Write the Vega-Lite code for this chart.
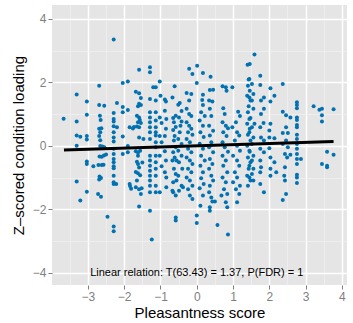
{
  "$schema": "https://vega.github.io/schema/vega-lite/v6.json",
  "autosize": "none",
  "width": 295,
  "height": 280,
  "padding": {"left": 52, "top": 5, "right": 6, "bottom": 38},
  "background": "white",
  "title": {"text": "CRS432", "fontSize": 16, "font": "Liberation Sans", "fontWeight": "normal", "color": "black", "offset": 2, "anchor": "middle"},
  "config": {
    "view": {"fill": "#E5E5E5", "stroke": null},
    "font": "Liberation Sans"
  },
  "resolve": {"axis": {"x": "independent", "y": "independent"}},
  "datasets": {
    "pts": [
      {"x":-2.29,"y":3.35},{"x":-3.31,"y":1.62},{"x":-3.67,"y":0.86},{"x":-3.31,"y":0.77},{"x":-3.31,"y":0.33},{"x":-3.21,"y":0.29},{"x":-3.31,"y":0.01},{"x":-3.03,"y":1.40},{"x":-3.03,"y":0.98},{"x":-3.03,"y":0.31},{"x":-3.03,"y":0.20},{"x":-3.03,"y":-0.49},{"x":-3.03,"y":-0.57},{"x":-2.85,"y":-0.64},{"x":-3.31,"y":-1.12},{"x":-3.03,"y":-1.44},{"x":-3.21,"y":-1.72},
      {"x":-2.69,"y":1.90},{"x":-2.69,"y":1.29},{"x":-2.55,"y":1.27},{"x":-2.67,"y":0.95},{"x":-2.65,"y":0.82},{"x":-2.69,"y":0.54},{"x":-2.63,"y":0.56},{"x":-2.66,"y":0.43},{"x":-2.69,"y":0.31},{"x":-2.66,"y":0.18},{"x":-2.66,"y":0.0},{"x":-2.6,"y":-0.02},{"x":-2.55,"y":-0.04},{"x":-2.68,"y":-0.33},{"x":-2.62,"y":-0.34},{"x":-2.56,"y":-0.3},{"x":-2.5,"y":-0.27},{"x":-2.71,"y":-0.6},{"x":-2.62,"y":-0.6},{"x":-2.57,"y":-0.59},{"x":-2.68,"y":-0.96},{"x":-2.64,"y":-1.01},{"x":-2.69,"y":-1.06},{"x":-2.72,"y":-1.51},{"x":-2.64,"y":-1.6},{"x":-2.46,"y":-2.23},{"x":-2.29,"y":-2.54},{"x":-2.29,"y":-2.69},
      {"x":-2.29,"y":1.04},{"x":-2.29,"y":0.85},{"x":-2.29,"y":0.77},{"x":-2.29,"y":0.62},{"x":-2.29,"y":0.43},{"x":-2.29,"y":0.27},{"x":-2.29,"y":0.14},{"x":-2.29,"y":-0.09},{"x":-2.29,"y":-0.25},{"x":-2.29,"y":-0.41},{"x":-2.29,"y":-0.51},{"x":-2.29,"y":-0.64},{"x":-2.29,"y":-0.70},{"x":-2.29,"y":-0.94},{"x":-2.29,"y":-1.14},{"x":-2.29,"y":-1.20},
      {"x":-2.2,"y":1.35},{"x":-2.2,"y":0.59},{"x":-2.22,"y":-1.2},{"x":-2.04,"y":1.98},{"x":-1.90,"y":2.03},{"x":-2.04,"y":1.23},{"x":-1.90,"y":1.13},{"x":-2.04,"y":1.06},{"x":-1.85,"y":0.59},{"x":-2.04,"y":0.30},{"x":-2.04,"y":-0.25},{"x":-1.9,"y":0.0},{"x":-1.9,"y":-0.2},{"x":-1.85,"y":-1.2},{"x":-1.84,"y":-1.26},{"x":-1.81,"y":-1.35},{"x":-1.76,"y":0.55},{"x":-1.73,"y":0.6},
      {"x":-1.59,"y":2.40},{"x":-1.68,"y":1.71},{"x":-1.59,"y":1.66},{"x":-1.54,"y":1.51},{"x":-1.59,"y":1.33},{"x":-1.54,"y":1.29},{"x":-1.62,"y":1.25},{"x":-1.65,"y":0.95},{"x":-1.59,"y":0.9},{"x":-1.57,"y":0.82},{"x":-1.62,"y":0.75},{"x":-1.54,"y":0.72},{"x":-1.59,"y":0.59},{"x":-1.65,"y":0.61},{"x":-1.59,"y":0.27},{"x":-1.47,"y":0.22},{"x":-1.68,"y":-0.17},{"x":-1.62,"y":-0.21},{"x":-1.56,"y":-0.15},{"x":-1.62,"y":-0.31},{"x":-1.65,"y":-0.5},{"x":-1.62,"y":-0.57},{"x":-1.5,"y":-0.52},{"x":-1.59,"y":-0.68},{"x":-1.68,"y":-0.82},{"x":-1.62,"y":-0.86},{"x":-1.56,"y":-0.92},{"x":-1.65,"y":-1.09},{"x":-1.68,"y":-1.3},{"x":-1.59,"y":-1.36},{"x":-1.52,"y":-1.33},{"x":-1.54,"y":-1.51},{"x":-1.59,"y":-1.91},
      {"x":-1.29,"y":2.48},{"x":-1.29,"y":2.32},{"x":-1.29,"y":1.48},{"x":-1.29,"y":1.06},{"x":-1.29,"y":0.90},{"x":-1.29,"y":0.75},{"x":-1.29,"y":0.59},{"x":-1.29,"y":0.43},{"x":-1.29,"y":0.22},{"x":-1.29,"y":-0.31},{"x":-1.29,"y":-0.46},{"x":-1.29,"y":-0.62},{"x":-1.29,"y":-0.78},{"x":-1.29,"y":-0.94},{"x":-1.29,"y":-1.09},{"x":-1.29,"y":-1.25},{"x":-1.29,"y":-1.46},{"x":-1.29,"y":-2.04},{"x":-1.24,"y":-2.95},
      {"x":-1.02,"y":2.03},{"x":-1.2,"y":1.85},{"x":-1.13,"y":1.85},{"x":-1.13,"y":1.43},{"x":-1.13,"y":1.06},{"x":-1.13,"y":0.80},{"x":-1.13,"y":0.59},{"x":-1.13,"y":0.43},{"x":-1.13,"y":0.33},{"x":-1.13,"y":0.12},{"x":-1.13,"y":-0.04},{"x":-1.13,"y":-0.31},{"x":-1.13,"y":-0.51},{"x":-1.13,"y":-0.72},{"x":-1.13,"y":-0.94},{"x":-1.13,"y":-1.25},{"x":-1.13,"y":-1.46},
      {"x":-1.0,"y":1.58},{"x":-0.88,"y":1.46},{"x":-0.85,"y":1.4},{"x":-0.88,"y":1.11},{"x":-1.02,"y":0.90},{"x":-0.84,"y":0.85},{"x":-0.97,"y":0.72},{"x":-0.85,"y":0.54},{"x":-1.02,"y":0.31},{"x":-0.88,"y":0.31},{"x":-0.97,"y":0.12},{"x":-0.88,"y":-0.17},{"x":-1.02,"y":-0.31},{"x":-0.85,"y":-0.46},{"x":-0.97,"y":-0.64},{"x":-0.88,"y":-0.83},{"x":-0.84,"y":-0.99},{"x":-1.02,"y":-1.46},{"x":-0.84,"y":-1.3},
      {"x":-0.61,"y":1.88},{"x":-0.67,"y":1.53},{"x":-0.58,"y":0.95},{"x":-0.65,"y":0.88},{"x":-0.63,"y":0.75},{"x":-0.58,"y":0.6},{"x":-0.65,"y":0.5},{"x":-0.61,"y":0.31},{"x":-0.63,"y":0.17},{"x":-0.58,"y":-0.04},{"x":-0.65,"y":-0.2},{"x":-0.61,"y":-0.36},{"x":-0.67,"y":-0.46},{"x":-0.56,"y":-0.46},{"x":-0.63,"y":-0.72},{"x":-0.58,"y":-0.88},{"x":-0.65,"y":-1.14},{"x":-0.56,"y":-1.09},{"x":-0.65,"y":-1.46},{"x":-0.58,"y":-1.56},{"x":-0.67,"y":-1.41},{"x":-0.58,"y":-2.25},{"x":-0.58,"y":-2.35},
      {"x":-0.47,"y":1.35},{"x":-0.51,"y":1.3},{"x":-0.42,"y":1.1},{"x":-0.49,"y":0.9},{"x":-0.42,"y":0.77},{"x":-0.45,"y":0.64},{"x":-0.47,"y":0.43},{"x":-0.51,"y":0.22},{"x":-0.42,"y":0.06},{"x":-0.51,"y":-0.15},{"x":-0.42,"y":-0.31},{"x":-0.49,"y":-0.51},{"x":-0.40,"y":-0.72},{"x":-0.51,"y":-0.94},{"x":-0.42,"y":-1.25},{"x":-0.49,"y":-1.41},{"x":-0.38,"y":-1.3},
      {"x":-0.21,"y":2.43},{"x":-0.12,"y":2.27},{"x":-0.28,"y":1.67},{"x":-0.15,"y":1.64},{"x":-0.21,"y":1.43},{"x":-0.28,"y":1.17},{"x":-0.21,"y":1.01},{"x":-0.15,"y":0.94},{"x":-0.28,"y":0.75},{"x":-0.21,"y":0.64},{"x":-0.15,"y":0.54},{"x":-0.24,"y":0.43},{"x":-0.12,"y":0.35},{"x":-0.28,"y":0.22},{"x":-0.19,"y":0.12},{"x":-0.24,"y":-0.09},{"x":-0.15,"y":-0.2},{"x":-0.28,"y":-0.36},{"x":-0.19,"y":-0.46},{"x":-0.12,"y":-0.57},{"x":-0.24,"y":-0.72},{"x":-0.15,"y":-0.83},{"x":-0.28,"y":-0.99},{"x":-0.19,"y":-1.09},{"x":-0.12,"y":-1.25},{"x":-0.24,"y":-1.36},{"x":-0.19,"y":-1.56},{"x":-0.12,"y":-1.67},{"x":0.0,"y":-2.19},{"x":0.0,"y":-2.43},
      {"x":0.01,"y":2.53},{"x":0.17,"y":2.3},{"x":0.0,"y":1.98},{"x":0.38,"y":2.18},
      {"x":0.17,"y":1.61},{"x":0.15,"y":1.45},{"x":0.17,"y":1.29},{"x":0.12,"y":1.06},{"x":0.22,"y":0.94},{"x":0.08,"y":0.80},{"x":0.17,"y":0.64},{"x":0.10,"y":0.43},{"x":0.19,"y":0.28},{"x":0.08,"y":0.07},{"x":0.17,"y":-0.09},{"x":0.12,"y":-0.31},{"x":0.22,"y":-0.46},{"x":0.10,"y":-0.62},{"x":0.17,"y":-0.83},{"x":0.12,"y":-1.02},{"x":0.19,"y":-1.2},{"x":0.08,"y":-1.33},{"x":0.17,"y":-1.56},{"x":0.10,"y":-1.88},
      {"x":0.36,"y":1.76},{"x":0.45,"y":1.77},{"x":0.34,"y":1.43},{"x":0.43,"y":1.40},{"x":0.36,"y":1.17},{"x":0.40,"y":0.94},{"x":0.34,"y":0.64},{"x":0.45,"y":0.48},{"x":0.36,"y":0.33},{"x":0.40,"y":0.12},{"x":0.34,"y":-0.04},{"x":0.45,"y":-0.2},{"x":0.36,"y":-0.41},{"x":0.43,"y":-0.57},{"x":0.34,"y":-0.72},{"x":0.40,"y":-0.94},{"x":0.45,"y":-1.09},{"x":0.36,"y":-1.25},{"x":0.34,"y":-1.46},{"x":0.40,"y":-1.62},{"x":0.36,"y":-1.93},{"x":0.43,"y":-1.75},{"x":0.50,"y":-1.75},{"x":0.36,"y":-2.04},{"x":0.57,"y":-2.49},{"x":0.86,"y":-2.79},
      {"x":0.71,"y":1.88},{"x":0.80,"y":1.85},{"x":0.82,"y":1.74},{"x":0.73,"y":1.19},{"x":0.77,"y":1.01},{"x":0.71,"y":0.75},{"x":0.80,"y":0.64},{"x":0.86,"y":0.56},{"x":0.73,"y":0.43},{"x":0.82,"y":0.31},{"x":0.71,"y":0.12},{"x":0.77,"y":-0.04},{"x":0.86,"y":-0.18},{"x":0.71,"y":-0.31},{"x":0.80,"y":-0.46},{"x":0.73,"y":-0.62},{"x":0.84,"y":-0.83},{"x":0.71,"y":-0.99},{"x":0.80,"y":-1.14},{"x":0.75,"y":-1.36},{"x":0.84,"y":-1.51},{"x":0.80,"y":-1.77},{"x":0.84,"y":-1.93},{"x":0.68,"y":-1.56},{"x":0.98,"y":1.85},
      {"x":1.14,"y":1.08},{"x":1.19,"y":0.94},{"x":1.08,"y":0.75},{"x":0.98,"y":0.59},{"x":1.11,"y":0.43},{"x":1.17,"y":0.33},{"x":1.05,"y":0.17},{"x":1.11,"y":0.01},{"x":1.19,"y":-0.15},{"x":1.00,"y":-0.31},{"x":1.11,"y":-0.46},{"x":1.17,"y":-0.62},{"x":1.05,"y":-0.83},{"x":1.11,"y":-0.99},{"x":1.00,"y":-1.14},{"x":1.19,"y":-1.25},{"x":1.08,"y":-1.36},{"x":1.17,"y":-1.51},{"x":1.11,"y":-1.77},
      {"x":1.46,"y":2.58},{"x":1.43,"y":2.09},{"x":1.41,"y":1.9},{"x":1.46,"y":1.74},{"x":1.39,"y":1.58},{"x":1.48,"y":1.43},{"x":1.43,"y":1.25},{"x":1.41,"y":1.06},{"x":1.48,"y":0.88},{"x":1.39,"y":0.70},{"x":1.46,"y":0.54},{"x":1.41,"y":0.35},{"x":1.48,"y":0.17},{"x":1.39,"y":0.01},{"x":1.46,"y":-0.18},{"x":1.41,"y":-0.36},{"x":1.48,"y":-0.51},{"x":1.43,"y":-0.72},{"x":1.39,"y":-0.94},{"x":1.48,"y":-1.09},{"x":1.41,"y":-1.25},
      {"x":1.59,"y":2.88},{"x":1.40,"y":2.56},{"x":1.45,"y":2.11},{"x":1.52,"y":1.95},{"x":1.56,"y":1.64},{"x":1.45,"y":1.53},{"x":1.52,"y":1.43},{"x":1.56,"y":1.17},{"x":1.45,"y":0.85},{"x":1.59,"y":0.70},{"x":1.52,"y":0.59},{"x":1.45,"y":0.43},{"x":1.56,"y":0.27},{"x":1.52,"y":0.06},{"x":1.45,"y":-0.15},{"x":1.56,"y":-0.31},{"x":1.52,"y":-0.46},{"x":1.45,"y":-0.62},{"x":1.56,"y":-0.72},{"x":1.52,"y":-0.88},{"x":1.45,"y":-0.99},{"x":1.56,"y":-1.09},
      {"x":1.75,"y":2.21},{"x":1.75,"y":1.92},{"x":1.85,"y":1.53},{"x":1.77,"y":1.43},{"x":1.85,"y":1.17},{"x":1.77,"y":1.01},{"x":1.75,"y":0.59},{"x":1.84,"y":0.72},{"x":1.77,"y":0.27},{"x":1.85,"y":0.17},{"x":1.75,"y":-0.09},{"x":1.85,"y":-0.2},{"x":1.75,"y":-0.46},{"x":1.77,"y":-0.67},{"x":1.75,"y":-0.83},{"x":1.75,"y":-1.2},{"x":1.85,"y":-1.46},
      {"x":2.03,"y":1.82},{"x":2.14,"y":1.58},{"x":2.03,"y":1.40},{"x":2.03,"y":0.70},{"x":2.00,"y":0.49},{"x":2.00,"y":0.27},{"x":2.14,"y":0.24},{"x":2.00,"y":-0.07},{"x":2.03,"y":-0.36},{"x":2.14,"y":-0.51},{"x":2.03,"y":-0.72},{"x":2.19,"y":-0.83},{"x":2.03,"y":-0.94},
      {"x":2.37,"y":1.95},{"x":2.37,"y":1.08},{"x":2.46,"y":0.97},{"x":2.58,"y":0.90},{"x":2.46,"y":0.59},{"x":2.37,"y":0.41},{"x":2.51,"y":0.41},{"x":2.46,"y":0.17},{"x":2.37,"y":0.06},{"x":2.51,"y":-0.04},{"x":2.43,"y":-0.25},{"x":2.49,"y":-0.36},{"x":2.58,"y":-0.28},{"x":2.43,"y":-0.67},{"x":2.41,"y":-0.94},{"x":2.43,"y":-1.09},{"x":2.46,"y":-1.51},{"x":2.37,"y":-1.70},
      {"x":2.76,"y":1.38},{"x":2.76,"y":1.29},{"x":2.76,"y":1.19},{"x":2.76,"y":0.90},{"x":2.76,"y":0.82},{"x":2.76,"y":0.66},{"x":2.76,"y":0.59},{"x":2.76,"y":0.35},{"x":2.76,"y":0.22},{"x":2.76,"y":0.06},{"x":2.76,"y":-0.09},{"x":2.76,"y":-0.25},{"x":2.76,"y":-0.41},{"x":2.76,"y":-0.57},{"x":2.76,"y":-0.91},{"x":2.76,"y":-0.99},{"x":2.76,"y":-1.17},{"x":2.87,"y":-0.41},
      {"x":3.22,"y":1.25},{"x":3.38,"y":1.14},{"x":3.45,"y":1.17},{"x":3.45,"y":0.97},{"x":3.45,"y":0.77},{"x":3.77,"y":1.16},{"x":3.59,"y":-0.18},{"x":3.77,"y":-0.28},{"x":3.45,"y":-0.57},{"x":3.59,"y":-0.62},{"x":3.59,"y":-0.67}
    ],
    "fit": [{"x": -3.66, "y": -0.13}, {"x": 3.77, "y": 0.14}],
    "note": [{"x": 0, "y": -4.0, "label": "Linear relation: T(63.43) = 1.37, P(FDR) = 1"}]
  },
  "layer": [
    {
      "data": {"name": "pts"},
      "mark": {"type": "point", "filled": true, "size": 16, "opacity": 1, "color": "#0072B2"},
      "encoding": {
        "x": {
          "field": "x", "type": "quantitative",
          "scale": {"domain": [-3.99, 4.14], "nice": false, "zero": false},
          "axis": {
            "orient": "bottom",
            "values": [-3.5, -2.5, -1.5, -0.5, 0.5, 1.5, 2.5, 3.5],
            "grid": true, "gridColor": "#F2F2F2", "gridWidth": 0.7,
            "ticks": false, "labels": false, "domain": false, "title": null
          }
        },
        "y": {
          "field": "y", "type": "quantitative",
          "scale": {"domain": [-4.38, 4.44], "nice": false, "zero": false},
          "axis": {
            "orient": "left",
            "values": [-3, -1, 1, 3],
            "grid": true, "gridColor": "#F2F2F2", "gridWidth": 0.7,
            "ticks": false, "labels": false, "domain": false, "title": null
          }
        }
      }
    },
    {
      "data": {"name": "fit"},
      "mark": {"type": "line", "color": "black", "strokeWidth": 3},
      "encoding": {
        "x": {
          "field": "x", "type": "quantitative",
          "axis": {
            "orient": "bottom",
            "values": [-3, -2, -1, 0, 1, 2, 3, 4],
            "format": "d",
            "title": "Pleasantness score",
            "titleFontSize": 15, "titleFontWeight": "normal", "titleColor": "black", "titlePadding": 3,
            "labelColor": "#7F7F7F", "labelFontSize": 12, "labelPadding": 2,
            "tickColor": "#7F7F7F", "tickSize": 4,
            "grid": true, "gridColor": "#FFFFFF", "gridWidth": 1.5,
            "domain": false
          }
        },
        "y": {
          "field": "y", "type": "quantitative",
          "axis": {
            "orient": "left",
            "values": [-4, -2, 0, 2, 4],
            "format": "d",
            "title": "Z\u2013scored condition loading",
            "titleFontSize": 15, "titleFontWeight": "normal", "titleColor": "black", "titlePadding": 6,
            "labelColor": "#7F7F7F", "labelFontSize": 12, "labelPadding": 2,
            "tickColor": "#7F7F7F", "tickSize": 4,
            "grid": true, "gridColor": "#FFFFFF", "gridWidth": 1.5,
            "domain": false
          }
        }
      }
    },
    {
      "data": {"name": "note"},
      "mark": {"type": "text", "fontSize": 11, "color": "black", "align": "center", "baseline": "middle"},
      "encoding": {
        "x": {"field": "x", "type": "quantitative", "axis": null},
        "y": {"field": "y", "type": "quantitative", "axis": null},
        "text": {"field": "label"}
      }
    }
  ]
}
